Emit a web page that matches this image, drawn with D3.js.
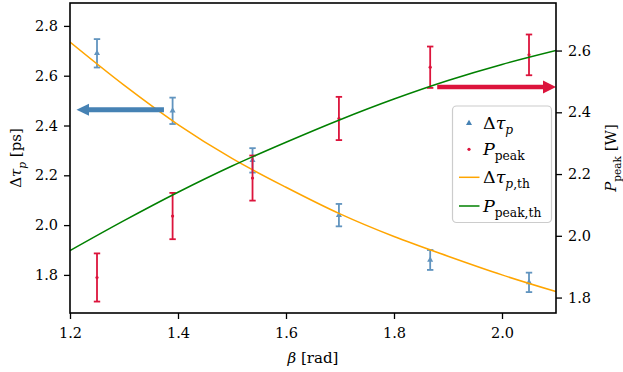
<!DOCTYPE html>
<html>
<head>
<meta charset="utf-8">
<script src="https://cdn.jsdelivr.net/npm/d3@7"></script>
<style>
  body { margin: 0; background: #fff; }
</style>
</head>
<body>
<svg id="chart" width="623" height="372"></svg>
<script>
// measured data
let beta = [1.25, 1.39, 1.538, 1.698, 1.867, 2.05];
let tauMeas = [2.690, 2.459, 2.260, 2.040, 1.860, 1.770];
let tauErr = [0.057, 0.053, 0.049, 0.045, 0.040, 0.039];
let powMeas = [1.865, 2.064, 2.187, 2.380, 2.546, 2.586];
let powErr = [0.078, 0.075, 0.073, 0.070, 0.067, 0.066];

let betaTh = [1.2, 1.3, 1.4, 1.5, 1.6, 1.7, 1.8, 1.9, 2.0, 2.1];
let tauTh = [2.735, 2.562, 2.404, 2.268, 2.152, 2.045, 1.954, 1.875, 1.800, 1.733];
let powTh = [1.952, 2.049, 2.141, 2.226, 2.303, 2.376, 2.443, 2.503, 2.555, 2.600];

let xTicks = [1.2, 1.4, 1.6, 1.8, 2.0];
let yLeftTicks = [1.8, 2.0, 2.2, 2.4, 2.6, 2.8];
let yRightTicks = [1.8, 2.0, 2.2, 2.4, 2.6];

// arrows: [beta start, beta end, value]
let arrowLeft = [1.374, 1.212, 2.463];
let arrowRight = [1.880, 2.1, 2.482];

let blue = "#4682b4", red = "#dc143c", orange = "#ffa500", green = "#008000";
let serif = "DejaVu Serif";

let svg = d3.select("#chart"),
    width = +svg.attr("width"),
    height = +svg.attr("height");
let m = {left: 70, right: 67, top: 3, bottom: 59};
let x0 = m.left, x1 = width - m.right, y0 = height - m.bottom, y1 = m.top;

let x = d3.scaleLinear().domain([1.2, 2.1]).range([x0, x1]);
let yL = d3.scaleLinear().domain([1.647, 2.892]).range([y0, y1]);
let yR = d3.scaleLinear().domain([1.750, 2.754]).range([y0, y1]);

svg.append("clipPath").attr("id", "plot")
  .append("rect").attr("x", x0).attr("y", y1).attr("width", x1 - x0).attr("height", y0 - y1);

let plot = svg.append("g").attr("clip-path", "url(#plot)");

// writes LaTeX-ish pieces into a text node
function mathText(sel, parts, size) {
  let shift = 0;
  sel.attr("font-family", serif);
  parts.forEach(function(p) {
    let ts = sel.append("tspan").text(p.t);
    if (p.i) ts.attr("font-style", "italic");
    let want = p.sub ? size * 0.3 : 0;
    if (want !== shift) { ts.attr("dy", want - shift); shift = want; }
    if (p.sub) ts.attr("font-size", size * 0.7);
  });
}

let line = function(ys, scale) {
  return d3.line()
    .x(function(d, i) { return x(betaTh[i]); })
    .y(function(d) { return scale(d); })
    .curve(d3.curveMonotoneX)(ys);
};

function errorbars(g, vals, errs, scale, color, w) {
  let eb = g.selectAll(null).data(vals).enter().append("g")
    .attr("stroke", color).attr("stroke-width", w);
  eb.append("line")
    .attr("x1", function(d, i) { return x(beta[i]); })
    .attr("x2", function(d, i) { return x(beta[i]); })
    .attr("y1", function(d, i) { return scale(d - errs[i]); })
    .attr("y2", function(d, i) { return scale(d + errs[i]); });
  [-1, 1].forEach(function(s) {
    eb.append("line")
      .attr("x1", function(d, i) { return x(beta[i]) - 3.2; })
      .attr("x2", function(d, i) { return x(beta[i]) + 3.2; })
      .attr("y1", function(d, i) { return scale(d + s * errs[i]); })
      .attr("y2", function(d, i) { return scale(d + s * errs[i]); });
  });
}

// left axis series
let gBlue = plot.append("g").attr("opacity", 0.85);
errorbars(gBlue, tauMeas, tauErr, yL, blue, 1.8);
gBlue.selectAll(null).data(tauMeas).enter().append("path")
  .attr("d", d3.symbol().type(d3.symbolTriangle).size(16))
  .attr("fill", blue)
  .attr("transform", function(d, i) { return "translate(" + x(beta[i]) + "," + yL(d) + ")"; });

plot.append("path").attr("d", line(tauTh, yL))
  .attr("fill", "none").attr("stroke", orange).attr("stroke-width", 1.5);

function arrow(a, scale, color, shaft, headW, headL) {
  let xa = x(a[0]), xb = x(a[1]), yy = scale(a[2]);
  let dir = xb > xa ? 1 : -1;
  plot.append("line")
    .attr("x1", xa).attr("x2", xb - dir * headL).attr("y1", yy).attr("y2", yy)
    .attr("stroke", color).attr("stroke-width", shaft);
  plot.append("path")
    .attr("d", "M" + xb + "," + yy + "L" + (xb - dir * headL) + "," + (yy - headW) +
               "L" + (xb - dir * headL) + "," + (yy + headW) + "Z")
    .attr("fill", color);
}
arrow(arrowLeft, yL, blue, 5, 6, 12.5);

// right axis series
errorbars(plot.append("g"), powMeas, powErr, yR, red, 1.8);
plot.selectAll(null).data(powMeas).enter().append("circle")
  .attr("cx", function(d, i) { return x(beta[i]); })
  .attr("cy", function(d) { return yR(d); })
  .attr("r", 1.6).attr("fill", red);

plot.append("path").attr("d", line(powTh, yR))
  .attr("fill", "none").attr("stroke", green).attr("stroke-width", 1.5);

arrow(arrowRight, yR, red, 4.5, 6.5, 13);

// axes
let tickFont = 14.5;
let xAxis = svg.append("g").attr("transform", "translate(0," + y0 + ")")
  .call(d3.axisBottom(x).tickValues(xTicks).tickSize(6).tickPadding(6).tickFormat(d3.format(".1f")));
let lAxis = svg.append("g").attr("transform", "translate(" + x0 + ",0)")
  .call(d3.axisLeft(yL).tickValues(yLeftTicks).tickSize(6).tickPadding(6).tickFormat(d3.format(".1f")));
let rAxis = svg.append("g").attr("transform", "translate(" + x1 + ",0)")
  .call(d3.axisRight(yR).tickValues(yRightTicks).tickSize(6).tickPadding(6).tickFormat(d3.format(".1f")));
[xAxis, lAxis, rAxis].forEach(function(a) {
  a.attr("font-family", serif).attr("font-size", tickFont);
  a.select(".domain").remove();
  a.selectAll(".tick line").attr("stroke", "#000").attr("stroke-width", 1.3);
  a.selectAll(".tick text").attr("fill", "#000");
});
xAxis.selectAll(".tick text").attr("dy", "0.9em");

svg.append("rect").attr("x", x0).attr("y", y1).attr("width", x1 - x0).attr("height", y0 - y1)
  .attr("fill", "none").attr("stroke", "#000").attr("stroke-width", 1.6);

// axis labels
let xl = svg.append("text").attr("x", (x0 + x1) / 2).attr("y", 363)
  .attr("text-anchor", "middle").attr("font-size", 15);
mathText(xl, [{t: "β", i: true}, {t: " [rad]"}], 15);

let ll = svg.append("text").attr("transform", "translate(21," + (y0 + y1) / 2 + ") rotate(-90)")
  .attr("text-anchor", "middle").attr("font-size", 15);
mathText(ll, [{t: "Δ"}, {t: "τ", i: true}, {t: "p", i: true, sub: true}, {t: " [ps]"}], 15);

let rl = svg.append("text").attr("transform", "translate(616," + (y0 + y1) / 2 + ") rotate(-90)")
  .attr("text-anchor", "middle").attr("font-size", 15);
mathText(rl, [{t: "P", i: true}, {t: "peak", sub: true}, {t: " [W]"}], 15);

// legend
let lg = svg.append("g");
lg.append("rect").attr("x", 452.5).attr("y", 106).attr("width", 99).attr("height", 116.5)
  .attr("rx", 4).attr("fill", "#fff").attr("fill-opacity", 0.8)
  .attr("stroke", "#cccccc").attr("stroke-width", 1.2);
let legendItems = [
  {kind: "tri", color: blue, parts: [{t: "Δ"}, {t: "τ", i: true}, {t: "p", i: true, sub: true}]},
  {kind: "dot", color: red, parts: [{t: "P", i: true}, {t: "peak", sub: true}]},
  {kind: "line", color: orange, parts: [{t: "Δ"}, {t: "τ", i: true}, {t: "p", i: true, sub: true}, {t: ",th", sub: true}]},
  {kind: "line", color: green, parts: [{t: "P", i: true}, {t: "peak,th", sub: true}]}
];
let rowY = [123.3, 149.3, 177.3, 206];
legendItems.forEach(function(it, k) {
  let cy = rowY[k];
  if (it.kind === "tri") {
    lg.append("path").attr("d", d3.symbol().type(d3.symbolTriangle).size(16))
      .attr("fill", it.color).attr("transform", "translate(469," + cy + ")");
  } else if (it.kind === "dot") {
    lg.append("circle").attr("cx", 469).attr("cy", cy).attr("r", 1.6).attr("fill", it.color);
  } else {
    lg.append("line").attr("x1", 459).attr("x2", 479.5).attr("y1", cy).attr("y2", cy)
      .attr("stroke", it.color).attr("stroke-width", 1.5);
  }
  let t = lg.append("text").attr("x", 483).attr("y", cy + 5.5).attr("font-size", 17.5);
  mathText(t, it.parts, 17.5);
});
</script>
</body>
</html>
